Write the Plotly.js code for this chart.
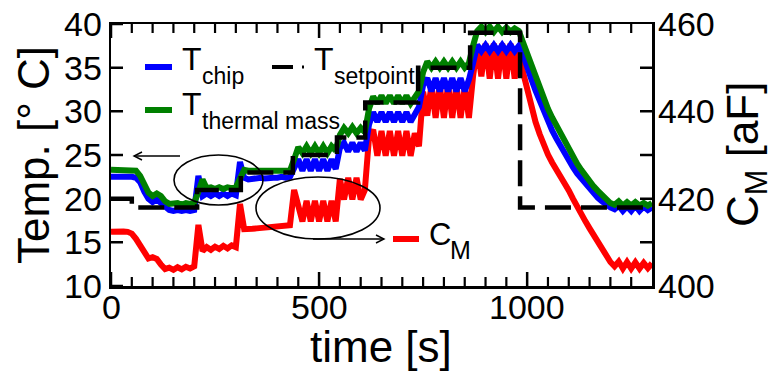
<!DOCTYPE html>
<html>
<head>
<meta charset="utf-8">
<script src="https://cdn.plot.ly/plotly-3.0.1.min.js"></script>
<style>html,body{margin:0;padding:0;background:#fff;}#chart{width:776px;height:372px;}</style>
</head>
<body>
<div id="chart"></div>
<script>
// ---- data ----
const time = [0,10,20,30,40,50,60,70,80,90,100,110,120,130,140,150,160,170,180,190,200,210,220,230,240,250,260,270,280,290,300,310,320,330,340,350,360,370,380,390,400,410,420,430,440,450,460,470,480,490,500,510,520,530,540,550,560,570,580,590,600,610,620,630,640,650,660,670,680,690,700,710,720,730,740,750,760,770,780,790,800,810,820,830,840,850,860,870,880,890,900,910,920,930,940,950,960,970,980,990,1000,1010,1020,1030,1040,1050,1060,1070,1080,1090,1100,1110,1120,1130,1140,1150,1160,1170,1180,1190,1200,1210,1220,1230,1240,1250,1260,1270,1280,1290,1300];

const tChip = [22.5,22.5,22.6,22.5,22.5,22.5,22.4,21.9,20.8,20.0,19.6,19.9,19.5,19.0,18.7,18.6,18.7,18.6,18.7,18.6,18.7,22.6,20.3,20.6,20.3,20.6,20.3,20.6,20.3,20.6,20.4,24.2,22.4,22.2,22.3,22.3,22.4,22.3,22.4,22.4,22.4,22.5,22.4,22.5,23.5,24.5,23.2,24.5,23.2,24.5,23.2,24.5,23.2,24.5,23.4,25.8,26.4,25.4,26.4,25.4,26.4,25.5,28.5,29.9,28.8,29.9,28.8,29.9,28.8,29.9,28.8,29.9,28.8,29.8,30.5,33.0,33.8,32.3,33.8,32.3,33.8,32.3,33.8,32.3,33.8,32.3,33.6,35.5,37.6,36.9,37.6,36.9,37.6,36.9,37.6,36.9,37.6,36.9,37.5,36.5,35.3,33.7,32.4,31.2,30.0,28.9,27.8,26.9,26.0,25.1,24.3,23.6,22.9,22.3,21.7,21.1,20.6,20.1,19.7,19.3,19.0,18.8,19.2,18.6,19.1,18.6,19.2,18.6,19.1,18.7,19.0];

const tThermal = [23.3,23.3,23.3,23.3,23.3,23.3,23.2,22.6,21.5,20.7,20.3,20.6,20.3,19.7,19.4,19.4,19.5,19.3,19.5,19.4,19.5,20.8,22.2,21.2,21.3,21.1,21.3,21.1,21.3,21.2,21.3,22.3,23.3,23.2,23.2,23.2,23.2,23.2,23.2,23.2,23.2,23.2,23.2,23.2,24.5,25.9,25.2,26.0,25.2,26.0,25.2,26.0,25.2,26.0,25.5,27.3,28.1,27.5,28.2,27.5,28.1,27.6,30.3,31.7,30.9,31.8,30.9,31.8,30.9,31.8,30.9,31.8,30.9,31.6,32.3,34.5,35.7,35.0,35.7,35.0,35.7,35.0,35.7,35.0,35.7,35.0,35.5,37.5,39.2,39.7,39.1,39.7,39.1,39.7,39.1,39.6,39.1,39.5,39.2,37.9,36.6,35.2,33.9,32.6,31.4,30.3,29.3,28.4,27.4,26.4,25.5,24.7,24.0,23.3,22.6,22.0,21.4,20.9,20.4,19.9,19.5,19.3,19.7,19.2,19.6,19.2,19.6,19.2,19.5,19.2,19.5];

const cM = [412.4,412.5,412.6,412.5,412.4,412.0,410.8,409.2,407.5,406.3,406.6,406.2,404.9,403.9,404.2,403.7,404.3,403.8,404.4,404.0,404.5,414.0,408.0,408.9,408.3,409.0,408.5,409.2,408.6,409.3,408.9,418.8,413.0,412.9,413.1,413.2,413.3,413.4,413.5,413.6,413.6,413.7,413.8,413.9,422.0,418.0,414.8,419.5,414.8,419.5,414.8,419.5,414.8,419.5,414.8,424.5,419.8,424.8,419.8,424.8,419.8,422.0,434.0,435.8,429.8,435.5,429.8,435.5,429.8,435.5,429.8,435.5,429.8,435.0,432.0,444.5,439.0,446.0,438.5,446.0,438.5,446.0,438.5,446.0,438.5,445.5,438.5,448.0,455.0,448.0,455.5,447.5,455.5,447.5,455.5,447.5,455.5,447.5,454.5,449.0,445.0,441.0,437.6,434.8,432.3,430.1,428.3,426.8,425.5,423.8,421.9,420.0,418.1,416.4,414.8,413.2,411.6,410.1,408.4,406.9,405.5,404.5,405.6,404.0,405.5,404.0,405.4,404.0,405.3,404.1,405.2];

const spTime = [0,50,207,312,437,543,611,738,863,983,1300];
const spTemp = [20,19,21,23,25,27,31,35,39,19,19];

// tick labels / tick positions
const xTicks = [0,500,1000];
const xMinorTicks = [50,100,150,200,250,300,350,400,450,550,600,650,700,750,800,850,900,950,1050,1100,1150,1200,1250];
const tTicks = [10,15,20,25,30,35,40];
const cTicks = [400,420,440,460];
const cAllTicks = [410,420,430,440,450];

const xRange = [0, 1300], tRange = [10, 40], cRange = [400, 460];

// ---- layout helpers (pixel -> paper) ----
const L=111, R=652, T=24, B=286, W=R-L, H=B-T;
const px = x => (x-L)/W;
const py = y => (B-y)/H;
const frac = (v, r) => (v - r[0]) / (r[1] - r[0]);
const FONT = 'Liberation Sans, Arial, Helvetica, sans-serif';

const traces = [
  {x: time, y: cM, yaxis: 'y', mode: 'lines', line: {color: '#ff0000', width: 6}, name: 'C_M'},
  {x: time, y: tChip, yaxis: 'y2', mode: 'lines', line: {color: '#0000ff', width: 6}, name: 'T_chip'},
  {x: time, y: tThermal, yaxis: 'y2', mode: 'lines', line: {color: '#008000', width: 6}, name: 'T_thermal mass'},
  {x: spTime, y: spTemp, yaxis: 'y2', mode: 'lines', line: {color: '#000000', width: 4.5, shape: 'hv', dash: '26px,10px'}, name: 'T_setpoint'}
];

function txt(text, x, y, size, extra) {
  return Object.assign({text: text, xref: 'paper', yref: 'paper', x: px(x), y: py(y),
    xanchor: 'left', yanchor: 'middle', showarrow: false, font: {family: FONT, size: size, color: '#000'}}, extra || {});
}
const tickFont = {family: FONT, size: 34, color: '#000'};

const annotations = [
  txt('T', 180, 59, 32), txt('chip', 200, 76, 23),
  txt('T', 312, 59, 32), txt('setpoint', 332, 76, 23),
  txt('T', 180, 104, 32), txt('thermal mass', 200, 121, 23),
  txt('C', 427, 234, 31), txt('M', 448, 250, 25),
  txt('Temp. [° C]', 33, 155, 44, {xanchor: 'center', textangle: -90}),
  txt('C<sub>M</sub> [aF]', 746, 155, 44, {xanchor: 'center', textangle: -90}),
  txt('time [s]', 381, 347, 44, {xanchor: 'center'})
];
// tick labels through the axes' scales
xTicks.forEach(v => annotations.push({text: String(v), xref: 'x', yref: 'paper', x: v, y: py(307),
  xanchor: 'center', yanchor: 'middle', showarrow: false, font: tickFont}));
tTicks.forEach(v => annotations.push({text: String(v), xref: 'paper', yref: 'y2', x: px(104), y: v,
  xanchor: 'right', yanchor: 'middle', showarrow: false, font: tickFont}));
cTicks.forEach(v => annotations.push({text: String(v), xref: 'paper', yref: 'y', x: px(656), y: v,
  xanchor: 'left', yanchor: 'middle', showarrow: false, font: tickFont}));

function seg(x0, x1, y, color, w) {
  return {type: 'line', xref: 'paper', yref: 'paper', x0: px(x0), x1: px(x1), y0: py(y), y1: py(y), line: {color: color, width: w}};
}
function pathShape(pts, w) {
  const d = pts.map((p, i) => (i ? 'L' : 'M') + px(p[0]) + ',' + py(p[1])).join(' ');
  return {type: 'path', xref: 'paper', yref: 'paper', path: d, line: {color: '#000', width: w}};
}
const shapes = [
  seg(145, 172, 67, '#0000ff', 6),
  seg(272, 293, 67, '#000', 4),
  seg(302, 304, 67, '#000', 3),
  seg(145, 172, 110, '#008000', 6),
  seg(393, 419, 239, '#ff0000', 6),
  {type: 'circle', xref: 'paper', yref: 'paper', x0: px(174), x1: px(263), y0: py(205), y1: py(155), line: {color: '#000', width: 1.6}},
  {type: 'circle', xref: 'paper', yref: 'paper', x0: px(256), x1: px(380), y0: py(239), y1: py(177), line: {color: '#000', width: 1.6}},
  // arrows
  pathShape([[180,156],[134,156]], 1.4), pathShape([[142,152],[134,156],[142,160]], 1.4),
  pathShape([[313,239],[384,239]], 1.4), pathShape([[376,235],[384,239],[376,243]], 1.4)
];
// inside tick marks at the axis-range fractions, one path per group
const xMaj = 14/H, xMin = 9/H, yLen = 12/W;
function tickPath(d, w) {
  return {type: 'path', xref: 'paper', yref: 'paper', path: d, line: {color: '#000', width: w}, fillcolor: 'rgba(0,0,0,0)'};
}
let dMaj = '', dMin = '', dY = '';
xTicks.forEach(v => { const f = frac(v, xRange); dMaj += 'M' + f + ',0 L' + f + ',' + xMaj + ' M' + f + ',1 L' + f + ',' + (1 - xMaj) + ' '; });
xMinorTicks.forEach(v => { const f = frac(v, xRange); dMin += 'M' + f + ',0 L' + f + ',' + xMin + ' M' + f + ',1 L' + f + ',' + (1 - xMin) + ' '; });
tTicks.forEach(v => { const f = frac(v, tRange); dY += 'M0,' + f + ' L' + yLen + ',' + f + ' '; });
cAllTicks.forEach(v => { const f = frac(v, cRange); dY += 'M' + (1 - yLen) + ',' + f + ' L1,' + f + ' '; });
shapes.push(tickPath(dMaj.trim(), 2.5), tickPath(dMin.trim(), 2.2), tickPath(dY.trim(), 2.5));

const axBase = {showline: true, linecolor: '#000', linewidth: 2.5, ticks: '', showticklabels: false,
  showgrid: false, zeroline: false};

const layout = {
  width: 776, height: 372,
  margin: {l: L, r: 776-R, t: T, b: 372-B, pad: 0},
  paper_bgcolor: '#fff', plot_bgcolor: '#fff',
  font: {family: FONT, color: '#000'},
  showlegend: false,
  xaxis: Object.assign({}, axBase, {range: xRange, mirror: true}),
  yaxis: Object.assign({}, axBase, {range: cRange, side: 'right', anchor: 'x'}),
  yaxis2: Object.assign({}, axBase, {range: tRange, side: 'left', overlaying: 'y', anchor: 'x'}),
  annotations: annotations,
  shapes: shapes
};

Plotly.newPlot('chart', traces, layout, {staticPlot: true, displayModeBar: false});
</script>
</body>
</html>
